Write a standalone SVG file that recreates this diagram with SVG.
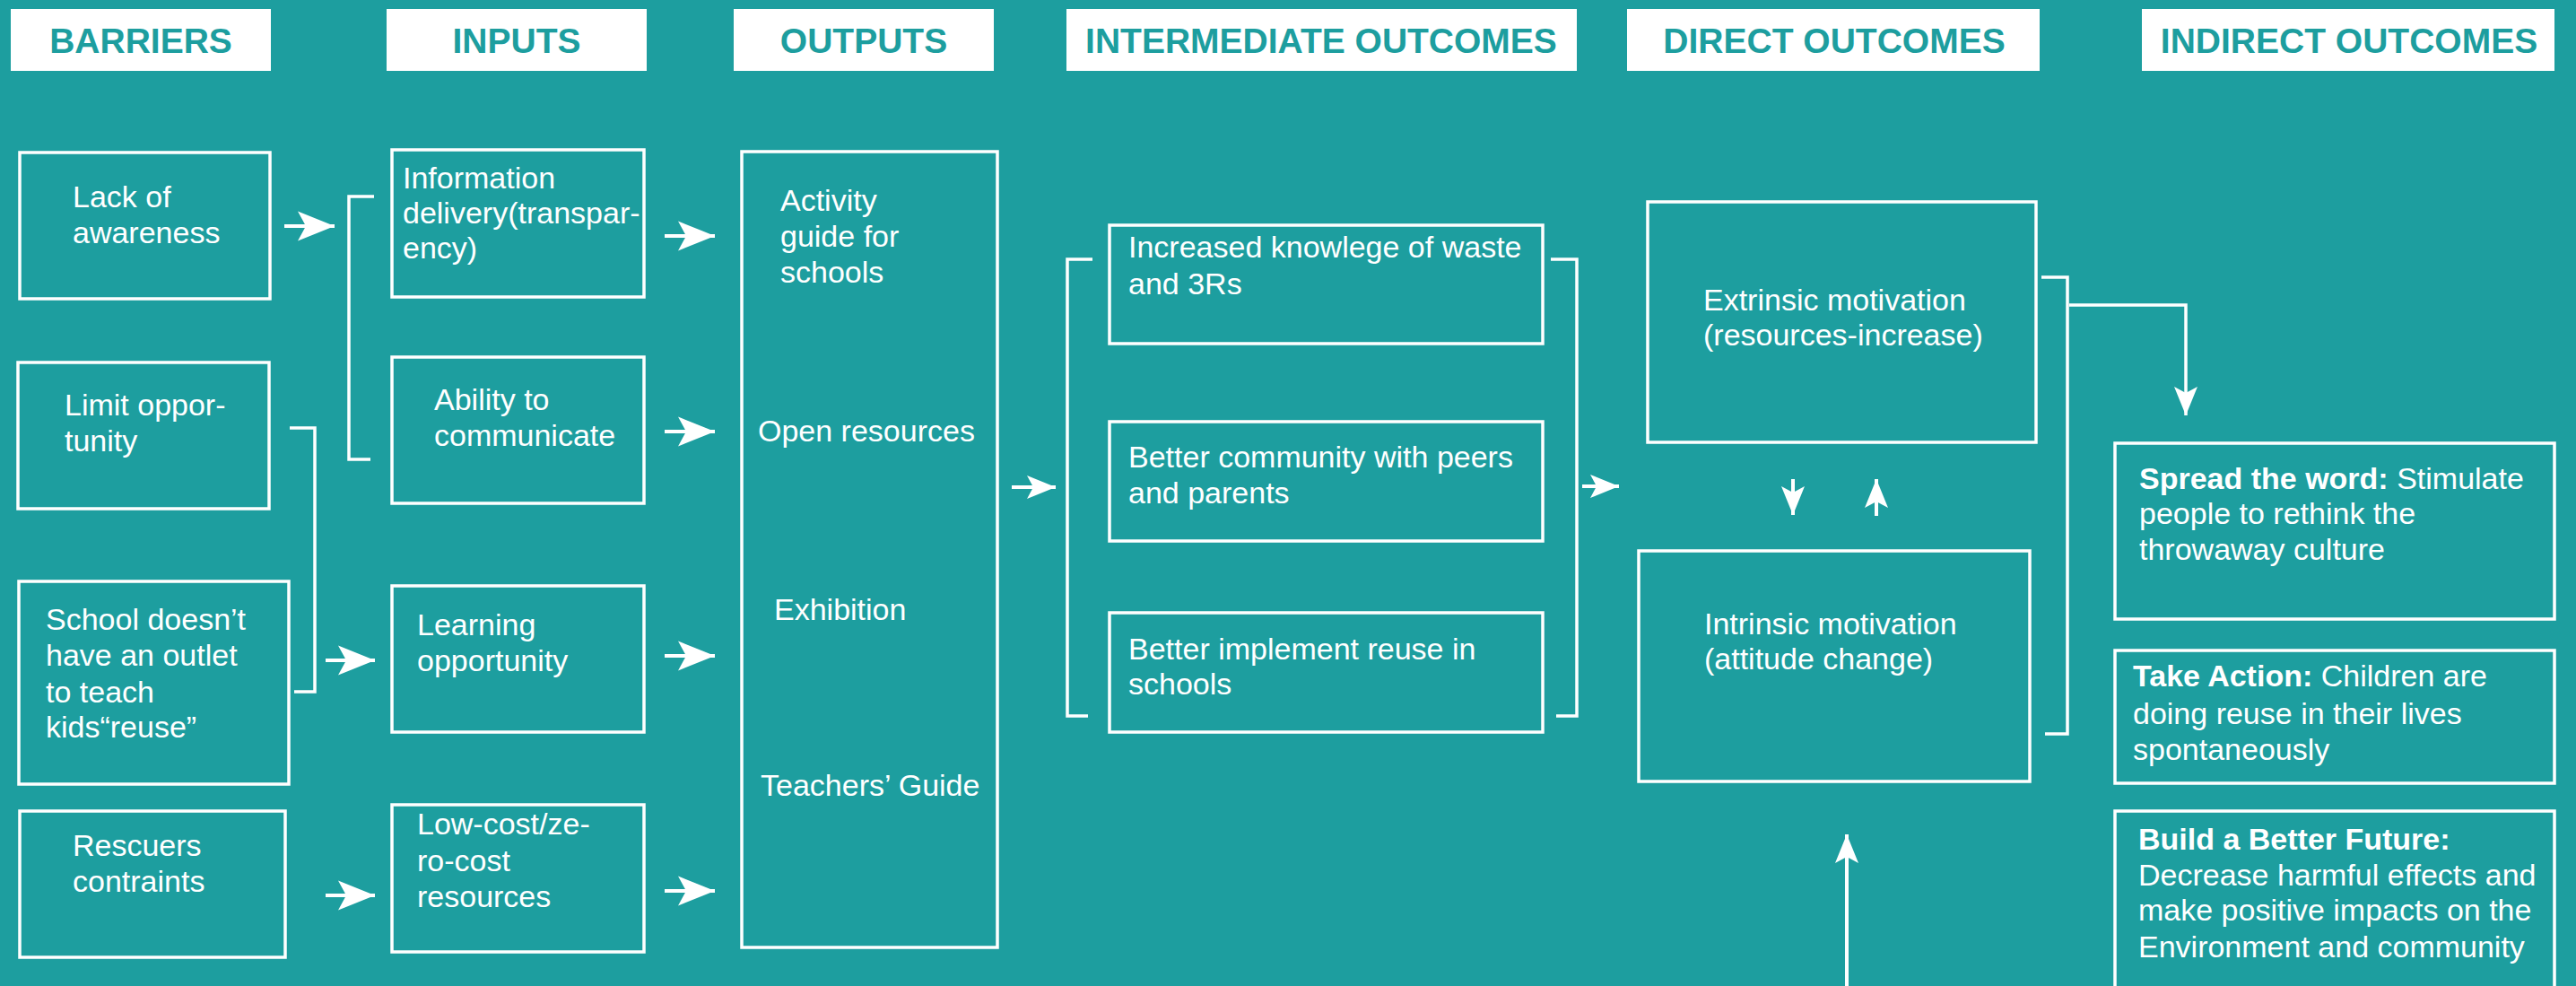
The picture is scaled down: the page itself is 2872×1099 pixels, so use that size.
<svg xmlns="http://www.w3.org/2000/svg" width="2872" height="1099" viewBox="0 0 2872 1099">
<style>
.hdr{fill:#fff}
.ht{font-family:"Liberation Sans",Arial,sans-serif;font-weight:bold;font-size:39px;fill:#1d9e9f;text-anchor:middle}
.box{fill:none;stroke:#fff;stroke-width:3.5}
.t{font-family:"Liberation Sans",Arial,sans-serif;font-size:34px;fill:#fff}
.b{font-weight:bold}
.ln{fill:none;stroke:#fff;stroke-width:3.5}
.ar{fill:none;stroke:#fff;stroke-width:4}
</style>
<defs>
<marker id="big" markerUnits="userSpaceOnUse" markerWidth="42" markerHeight="34" viewBox="0 0 42 34" refX="41" refY="17" orient="auto">
<path d="M0,0.5 L41,17 L0,33.5 L9,17 Z" fill="#fff"/>
</marker>
<marker id="sm" markerUnits="userSpaceOnUse" markerWidth="33" markerHeight="27" viewBox="0 0 33 27" refX="32" refY="13.5" orient="auto">
<path d="M0,0.5 L32,13.5 L0,26.5 L7,13.5 Z" fill="#fff"/>
</marker>
</defs>
<rect width="2872" height="1099" fill="#1d9e9f"/>

<g id="headers">
<rect class="hdr" x="12" y="10" width="290" height="69"/><text class="ht" x="157" y="59">BARRIERS</text>
<rect class="hdr" x="431" y="10" width="290" height="69"/><text class="ht" x="576" y="59">INPUTS</text>
<rect class="hdr" x="818" y="10" width="290" height="69"/><text class="ht" x="963" y="59">OUTPUTS</text>
<rect class="hdr" x="1189" y="10" width="569" height="69"/><text class="ht" x="1473" y="59">INTERMEDIATE OUTCOMES</text>
<rect class="hdr" x="1814" y="10" width="460" height="69"/><text class="ht" x="2045" y="59">DIRECT OUTCOMES</text>
<rect class="hdr" x="2388" y="10" width="460" height="69"/><text class="ht" x="2619" y="59">INDIRECT OUTCOMES</text>
</g>

<g id="barrier-lack"><rect class="box" x="22" y="170" width="279" height="163"/>
<text class="t" x="81" y="231">Lack of</text><text class="t" x="81" y="271">awareness</text></g>
<g id="barrier-limit"><rect class="box" x="20" y="404" width="280" height="163"/>
<text class="t" x="72" y="463">Limit oppor-</text><text class="t" x="72" y="503">tunity</text></g>
<g id="barrier-school"><rect class="box" x="21" y="648" width="301" height="226"/>
<text class="t" x="51" y="702">School doesn’t</text><text class="t" x="51" y="742">have an outlet</text><text class="t" x="51" y="783">to teach</text><text class="t" x="51" y="822">kids“reuse”</text></g>
<g id="barrier-rescuers"><rect class="box" x="22" y="904" width="296" height="163"/>
<text class="t" x="81" y="954">Rescuers</text><text class="t" x="81" y="994">contraints</text></g>

<g id="input-info"><rect class="box" x="437" y="167" width="281" height="164"/>
<text class="t" x="449" y="210">Information</text><text class="t" x="449" y="249">delivery(transpar-</text><text class="t" x="449" y="288">ency)</text></g>
<g id="input-ability"><rect class="box" x="437" y="398" width="281" height="163"/>
<text class="t" x="484" y="457">Ability to</text><text class="t" x="484" y="497">communicate</text></g>
<g id="input-learning"><rect class="box" x="437" y="653" width="281" height="163"/>
<text class="t" x="465" y="708">Learning</text><text class="t" x="465" y="748">opportunity</text></g>
<g id="input-lowcost"><rect class="box" x="437" y="897" width="281" height="164"/>
<text class="t" x="465" y="930">Low-cost/ze-</text><text class="t" x="465" y="971">ro-cost</text><text class="t" x="465" y="1011">resources</text></g>

<g id="outputs"><rect class="box" x="827" y="169" width="285" height="887"/>
<text class="t" x="870" y="235">Activity</text><text class="t" x="870" y="275">guide for</text><text class="t" x="870" y="315">schools</text>
<text class="t" x="845" y="492">Open resources</text>
<text class="t" x="863" y="691">Exhibition</text>
<text class="t" x="848" y="887">Teachers’ Guide</text></g>

<g id="inter-knowledge"><rect class="box" x="1237" y="251" width="483" height="132"/>
<text class="t" x="1258" y="287">Increased knowlege of waste</text><text class="t" x="1258" y="328">and 3Rs</text></g>
<g id="inter-community"><rect class="box" x="1237" y="470" width="483" height="133"/>
<text class="t" x="1258" y="521">Better community with peers</text><text class="t" x="1258" y="561">and parents</text></g>
<g id="inter-implement"><rect class="box" x="1237" y="683" width="483" height="133"/>
<text class="t" x="1258" y="735">Better implement reuse in</text><text class="t" x="1258" y="774">schools</text></g>

<g id="direct-extrinsic"><rect class="box" x="1837" y="225" width="433" height="268"/>
<text class="t" x="1899" y="346">Extrinsic motivation</text><text class="t" x="1899" y="385">(resources-increase)</text></g>
<g id="direct-intrinsic"><rect class="box" x="1827" y="614" width="436" height="257"/>
<text class="t" x="1900" y="707">Intrinsic motivation</text><text class="t" x="1900" y="746">(attitude  change)</text></g>

<g id="indirect-spread"><rect class="box" x="2358" y="494" width="490" height="196"/>
<text class="t" x="2385" y="545"><tspan class="b">Spread the word:</tspan> Stimulate</text><text class="t" x="2385" y="584">people to rethink the</text><text class="t" x="2385" y="624">throwaway culture</text></g>
<g id="indirect-action"><rect class="box" x="2358" y="725" width="490" height="148"/>
<text class="t" x="2378" y="765"><tspan class="b">Take Action:</tspan> Children are</text><text class="t" x="2378" y="807">doing reuse in their lives</text><text class="t" x="2378" y="847">spontaneously</text></g>
<g id="indirect-future"><rect class="box" x="2358" y="904" width="490" height="220"/>
<text class="t b" x="2384" y="947">Build a Better Future:</text><text class="t" x="2384" y="987">Decrease harmful effects and</text><text class="t" x="2384" y="1026">make positive impacts on the</text><text class="t" x="2384" y="1067">Environment and community</text></g>

<g id="connectors">
<path class="ln" d="M417,219 H389 V512 H413"/>
<path class="ln" d="M323,477 H351 V771 H328"/>
<path class="ln" d="M1218,289 H1190 V798 H1213"/>
<path class="ln" d="M1729,289 H1758 V798 H1735"/>
<path class="ln" d="M2276,309 H2305 V818 H2280"/>
<line class="ar" x1="317" y1="252" x2="373" y2="252" marker-end="url(#big)"/>
<line class="ar" x1="363" y1="736" x2="418" y2="736" marker-end="url(#big)"/>
<line class="ar" x1="363" y1="998" x2="418" y2="998" marker-end="url(#big)"/>
<line class="ar" x1="741" y1="263" x2="797" y2="263" marker-end="url(#big)"/>
<line class="ar" x1="741" y1="481" x2="797" y2="481" marker-end="url(#big)"/>
<line class="ar" x1="741" y1="731" x2="797" y2="731" marker-end="url(#big)"/>
<line class="ar" x1="741" y1="993" x2="797" y2="993" marker-end="url(#big)"/>
<line class="ar" x1="1128" y1="543" x2="1177" y2="543" marker-end="url(#sm)"/>
<line class="ar" x1="1764" y1="542" x2="1805" y2="542" marker-end="url(#sm)"/>
<line class="ar" x1="1999" y1="534" x2="1999" y2="574" marker-end="url(#sm)"/>
<line class="ar" x1="2092" y1="575" x2="2092" y2="534" marker-end="url(#sm)"/>
<path class="ln" d="M2307,340 H2437 V463" marker-end="url(#sm)"/>
<line class="ar" x1="2059" y1="1099" x2="2059" y2="930" marker-end="url(#sm)"/>
</g>
</svg>
